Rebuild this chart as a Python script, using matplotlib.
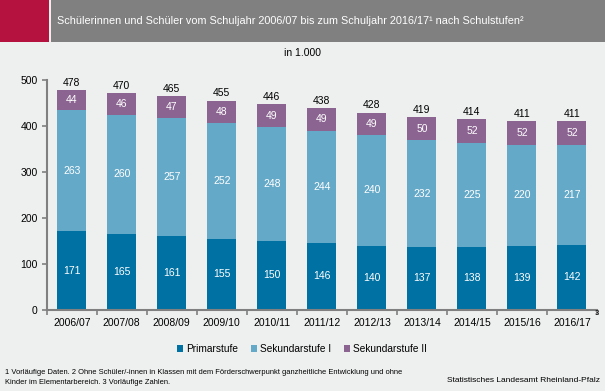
import matplotlib
matplotlib.use("Agg")
import matplotlib.pyplot as plt
from matplotlib.patches import Rectangle
import numpy as np

plt.rcParams['font.family'] = ['Liberation Sans', 'DejaVu Sans']

years = ["2006/07", "2007/08", "2008/09", "2009/10", "2010/11", "2011/12",
         "2012/13", "2013/14", "2014/15", "2015/16", "2016/17"]
primar = [171, 165, 161, 155, 150, 146, 140, 137, 138, 139, 142]
sek1 = [263, 260, 257, 252, 248, 244, 240, 232, 225, 220, 217]
sek2 = [44, 46, 47, 48, 49, 49, 49, 50, 52, 52, 52]
totals = [478, 470, 465, 455, 446, 438, 428, 419, 414, 411, 411]
series_names = ["Primarstufe", "Sekundarstufe I", "Sekundarstufe II"]
colors = ["#0071A3", "#65A9C8", "#8B6491"]

W, H = 605, 391
bg = "#EEF0EF"
fig = plt.figure(figsize=(W/100, H/100), dpi=100, facecolor=bg)

# header
fig.patches.append(Rectangle((0, 1 - 42/H), 49/W, 42/H, transform=fig.transFigure,
                             facecolor="#B5123F", edgecolor="none"))
fig.patches.append(Rectangle((51/W, 1 - 42/H), 1 - 51/W, 42/H, transform=fig.transFigure,
                             facecolor="#808080", edgecolor="none"))
fig.text(57/W, 1 - 21/H, "Schülerinnen und Schüler vom Schuljahr 2006/07 bis zum Schuljahr 2016/17¹ nach Schulstufen²",
         color="white", fontsize=7.8, va="center", ha="left")
fig.text(302/W, 1 - 53/H, "in 1.000", color="black", fontsize=7.5, va="center", ha="center")

# axes
x0, x1 = 46.7, 597
y0p, y500p = 310, 80
ax = fig.add_axes([x0/W, 1 - y0p/H, (x1 - x0)/W, (y0p - y500p)/H])
ax.set_facecolor(bg)
x = np.arange(len(years))
bw = 0.58
p = np.array(primar); s1 = np.array(sek1); s2 = np.array(sek2)
ax.bar(x, p, bw, color=colors[0], label=series_names[0])
ax.bar(x, s1, bw, bottom=p, color=colors[1], label=series_names[1])
ax.bar(x, s2, bw, bottom=p + s1, color=colors[2], label=series_names[2])

for i in range(len(years)):
    ax.text(x[i], p[i] / 2, str(primar[i]), ha="center", va="center", color="white", fontsize=7.5)
    ax.text(x[i], p[i] + s1[i] / 2, str(sek1[i]), ha="center", va="center", color="white", fontsize=7.5)
    ax.text(x[i], p[i] + s1[i] + s2[i] / 2, str(sek2[i]), ha="center", va="center", color="white", fontsize=7.5)
    ax.text(x[i], p[i] + s1[i] + s2[i] + 5, str(totals[i]), ha="center", va="bottom", color="black", fontsize=7.5)

ax.set_xlim(-0.5, len(years) - 0.5)
ax.set_ylim(0, 500)
ax.set_yticks([0, 100, 200, 300, 400, 500])
ax.set_xticks(x)
ax.set_xticklabels(years, fontsize=7.5)
ax.set_xticks(np.arange(-0.5, len(years) + 0.5, 1), minor=True)
ax.tick_params(axis="x", which="major", length=0, pad=6)
ax.tick_params(axis="x", which="minor", length=3.5, width=1.2, color="#808080", direction="out")
ax.tick_params(axis="y", length=3.5, width=1.2, color="#808080", labelsize=7.5, pad=3)
for s in ["top", "right"]:
    ax.spines[s].set_visible(False)
for s in ["left", "bottom"]:
    ax.spines[s].set_color("#808080")
    ax.spines[s].set_linewidth(1.5)
ax.text(len(years) - 0.55, -7, "3", fontsize=5.5, ha="left", va="center", transform=ax.transData,
        clip_on=False)

leg = fig.legend(loc="center", bbox_to_anchor=(302/W, 1 - 349/H), ncol=3, frameon=False,
                 fontsize=7.3, handlelength=0.6, handleheight=0.6, handletextpad=0.3, columnspacing=1.3)

fig.text(5/W, 1 - 373/H, "1 Vorläufige Daten. 2 Ohne Schüler/-innen in Klassen mit dem Förderschwerpunkt ganzheitliche Entwicklung und ohne",
         fontsize=5.4, va="center", ha="left")
fig.text(5/W, 1 - 383/H, "Kinder im Elementarbereich. 3 Vorläufige Zahlen.", fontsize=5.4, va="center", ha="left")
fig.text(600/W, 1 - 381/H, "Statistisches Landesamt Rheinland-Pfalz", fontsize=6, va="center", ha="right")

fig.savefig("out.png", dpi=100, facecolor=bg)
